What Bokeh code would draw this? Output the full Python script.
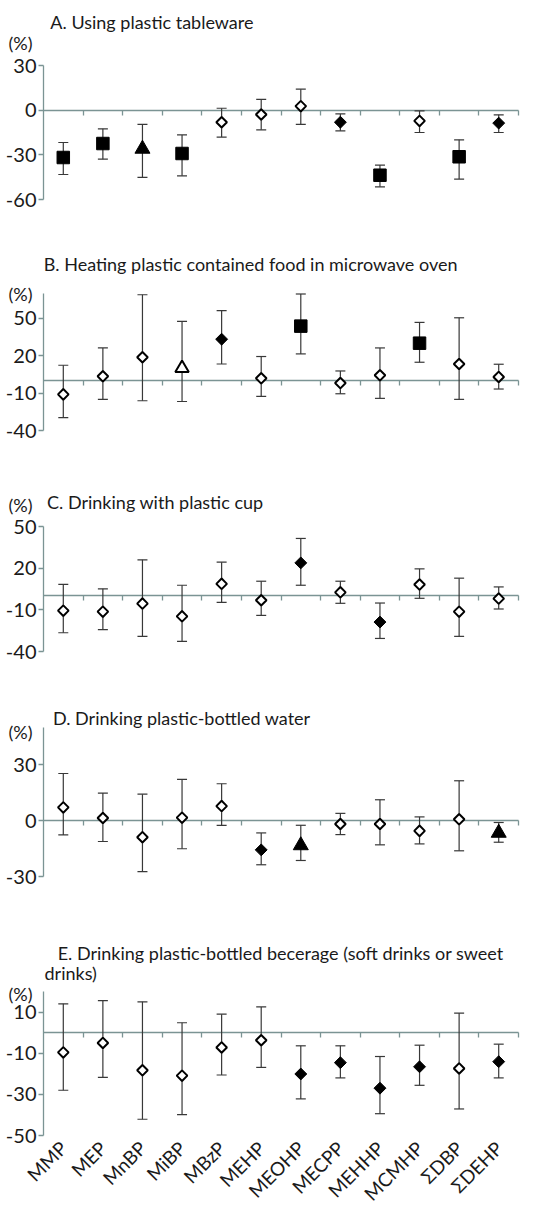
import numpy as np
from bokeh.plotting import figure
from bokeh.layouts import column
from bokeh.core.properties import value
from bokeh.models import (ColumnDataSource, Range1d, LinearAxis, FixedTicker,
                          Whisker, TeeHead)
from bokeh.embed import file_html
from bokeh.resources import INLINE

# ---------------- data ----------------
metabolites = ["MMP", "MEP", "MnBP", "MiBP", "MBzP", "MEHP", "MEOHP", "MECPP",
               "MEHHP", "MCMHP", "ΣDBP", "ΣDEHP"]

# marker codes: od = open diamond, fd = filled diamond, fs = filled square,
# ft = filled triangle, ot = open triangle
a_title = "A. Using plastic tableware"
a_est = [-31.8, -22.4, -26.0, -29.1, -8.1, -2.9, 2.7, -8.1, -43.7, -7.2, -31.3, -8.7]
a_lo = [-43.2, -32.9, -45.2, -44.1, -18.1, -13.2, -9.6, -13.9, -51.5, -15.0, -46.3, -15.0]
a_hi = [-21.7, -12.5, -9.6, -16.6, 1.3, 7.2, 14.1, -2.5, -36.9, -0.5, -19.9, -3.1]
a_mark = ["fs", "fs", "ft", "fs", "od", "od", "od", "fd", "fs", "od", "fs", "fd"]
a_ticks = [30, 0, -30, -60]

b_title = "B. Heating plastic contained food in microwave oven"
b_est = [-11.0, 3.5, 18.8, 10.0, 33.3, 1.9, 43.8, -1.9, 4.3, 30.1, 13.4, 3.0]
b_lo = [-29.6, -15.0, -16.1, -16.7, 13.4, -12.6, 21.5, -10.5, -14.2, 14.8, -15.0, -6.7]
b_hi = [12.4, 26.3, 69.0, 47.6, 56.2, 19.4, 69.6, 7.8, 26.3, 46.8, 50.5, 13.2]
b_mark = ["od", "od", "od", "ot", "fd", "od", "fs", "od", "od", "fs", "od", "od"]
b_ticks = [50, 20, -10, -40]

c_title = "C. Drinking with plastic cup"
c_est = [-10.6, -11.3, -5.5, -14.7, 8.7, -3.1, 23.8, 2.6, -18.8, 8.2, -11.3, -1.9]
c_lo = [-26.5, -24.3, -29.1, -32.7, -4.6, -14.0, 7.7, -5.3, -30.6, -1.7, -29.1, -9.4]
c_hi = [8.4, 5.1, 26.0, 7.7, 24.3, 10.6, 41.4, 10.6, -5.1, 19.5, 12.8, 6.5]
c_mark = ["od", "od", "od", "od", "od", "od", "fd", "od", "fd", "od", "od", "od"]
c_ticks = [50, 20, -10, -40]

d_title = "D. Drinking plastic-bottled water"
d_est = [7.1, 1.4, -8.9, 1.6, 7.8, -15.7, -13.3, -1.8, -1.8, -5.5, 0.7, -6.6]
d_lo = [-7.7, -11.2, -27.4, -15.1, -2.5, -23.7, -21.4, -7.5, -13.0, -12.5, -16.2, -11.6]
d_hi = [25.3, 14.8, 14.2, 22.2, 19.8, -6.6, -2.5, 3.9, 11.2, 2.0, 21.4, -1.0]
d_mark = ["od", "od", "od", "od", "od", "fd", "ft", "od", "od", "od", "od", "ft"]
d_ticks = [30, 0, -30]

e_title = ["E. Drinking plastic-bottled becerage (soft drinks or sweet", "drinks)"]
e_est = [-9.6, -5.0, -18.3, -20.9, -7.2, -3.7, -20.1, -14.6, -27.0, -16.6, -17.4, -14.1]
e_lo = [-28.0, -21.7, -42.1, -39.9, -20.6, -16.9, -32.2, -22.0, -39.4, -25.6, -37.1, -22.0]
e_hi = [14.0, 15.6, 15.0, 4.8, 9.0, 12.5, -6.4, -6.4, -11.6, -6.1, 9.5, -5.6]
e_mark = ["od", "od", "od", "od", "od", "od", "fd", "fd", "fd", "fd", "od", "fd"]
e_ticks = [10, -10, -30, -50]

unit_label = "(%)"

# ---------------- style / layout ----------------
FONT = "Lato"
AX = "#7b9494"
ERR = "#383838"
TXT = "#1a1a1a"
FIG_W = 548
AXIS_X = 43      # screen x of the y axis
RIGHT_X = 518    # screen x of the right end of the zero line
NCAT = len(metabolites)
PXU = (RIGHT_X - AXIS_X) / NCAT
X0 = 0.5 - AXIS_X / PXU
X1 = X0 + FIG_W / PXU

STYLE = {
    "od": dict(marker="square", size=7.5, angle=np.pi / 4, fill="white", lw=2.0),
    "fd": dict(marker="square", size=8.4, angle=np.pi / 4, fill="black", lw=1.0),
    "fs": dict(marker="square", size=12.5, angle=0.0, fill="black", lw=1.0),
    "ft": dict(marker="triangle", size=15.0, angle=0.0, fill="black", lw=1.0),
    "ot": dict(marker="triangle", size=13.5, angle=0.0, fill="white", lw=2.0),
}


def panel(est, lo, hi, marks, yr, yticks, fig_top, fig_bot, frame_top, frame_bot,
          texts, xlabels=False):
    ylo, yhi = yr
    ppy = (frame_bot - frame_top) / (yhi - ylo)

    def ymap(page_y):
        return yhi - (page_y - frame_top) / ppy

    def xmap(page_x):
        return X0 + page_x / PXU

    p = figure(width=FIG_W, height=fig_bot - fig_top,
               x_range=Range1d(X0, X1), y_range=Range1d(ymap(fig_bot), ymap(fig_top)),
               output_backend="svg", toolbar_location=None, title=None,
               x_axis_location=None, y_axis_location=None,
               min_border=0, min_border_left=0, min_border_right=0,
               min_border_top=0, min_border_bottom=0,
               outline_line_color=None, background_fill_color="white",
               border_fill_color="white")
    p.grid.grid_line_color = None

    x = list(range(1, NCAT + 1))
    src = ColumnDataSource(dict(
        x=x, y=est, lo=lo, hi=hi,
        marker=[STYLE[m]["marker"] for m in marks],
        size=[STYLE[m]["size"] for m in marks],
        angle=[STYLE[m]["angle"] for m in marks],
        fill=[STYLE[m]["fill"] for m in marks],
        lw=[STYLE[m]["lw"] for m in marks],
    ))

    # y axis
    yax = LinearAxis(fixed_location=0.5, bounds=(ylo, yhi),
                     ticker=FixedTicker(ticks=yticks),
                     major_label_overrides={t: str(t) for t in yticks},
                     axis_line_color=AX, axis_line_width=1.3,
                     major_tick_line_color=AX, major_tick_line_width=1.3,
                     major_tick_out=5, major_tick_in=0,
                     minor_tick_line_color=None,
                     major_label_text_font=FONT, major_label_text_font_size="20px",
                     major_label_text_color=TXT, major_label_standoff=2)
    p.add_layout(yax, "left")

    # zero line with category-boundary ticks
    zax = LinearAxis(fixed_location=0, bounds=(0.5, NCAT + 0.5),
                     ticker=FixedTicker(ticks=[i + 0.5 for i in x]),
                     axis_line_color=AX, axis_line_width=1.3,
                     major_tick_line_color=AX, major_tick_line_width=1.3,
                     major_tick_out=5, major_tick_in=0,
                     minor_tick_line_color=None,
                     major_label_text_alpha=0, major_label_text_font_size="1px",
                     level="underlay")
    p.add_layout(zax, "below")

    if xlabels:
        xax = LinearAxis(fixed_location=ylo, ticker=FixedTicker(ticks=x),
                         major_label_overrides={i: n for i, n in zip(x, metabolites)},
                         axis_line_color=None, major_tick_line_color=None,
                         minor_tick_line_color=None, major_tick_out=0, major_tick_in=0,
                         major_label_orientation=np.pi / 4,
                         major_label_text_font=FONT, major_label_text_font_size="19px",
                         major_label_text_color=TXT, major_label_standoff=9)
        p.add_layout(xax, "below")

    head = dict(size=10, line_color=ERR, line_width=1.2)
    p.add_layout(Whisker(source=src, base="x", upper="hi", lower="lo",
                         dimension="height", line_color=ERR, line_width=1.2,
                         upper_head=TeeHead(**head), lower_head=TeeHead(**head)))

    p.scatter("x", "y", source=src, marker="marker", size="size", angle="angle",
              fill_color="fill", line_color="black", line_width="lw")

    # one text renderer per text item: (text, screen x, baseline y, align)
    for (t, px, pb, al) in texts:
        tsrc = ColumnDataSource(dict(tx=[xmap(px)], ty=[ymap(pb)], txt=[t]))
        p.text(x="tx", y="ty", text="txt", source=tsrc, text_align=al,
               text_font=value(FONT), text_font_size="18px", text_color=TXT,
               text_baseline="alphabetic")
    return p


pa = panel(a_est, a_lo, a_hi, a_mark, (-60, 30), a_ticks, 0, 230, 65, 199,
           [(a_title, 253, 21, "right"), (unit_label, 8, 42, "left")])
pb = panel(b_est, b_lo, b_hi, b_mark, (-40, 70), b_ticks, 230, 470, 293, 430,
           [(b_title, 457, 263, "right"), (unit_label, 8, 293, "left")])
pc = panel(c_est, c_lo, c_hi, c_mark, (-40, 50), c_ticks, 470, 690, 526, 651,
           [(c_title, 263, 501, "right"), (unit_label, 8, 504, "left")])
pd_ = panel(d_est, d_lo, d_hi, d_mark, (-30, 50), d_ticks, 690, 925, 727, 876,
            [(d_title, 310, 717, "right"), (unit_label, 8, 731, "left")])
pe = panel(e_est, e_lo, e_hi, e_mark, (-50, 20), e_ticks, 925, 1209, 991, 1135,
           [(e_title[0], 503, 952, "right"), (e_title[1], 44, 972, "left"),
            (unit_label, 8, 993, "left")],
           xlabels=True)

layout = column(pa, pb, pc, pd_, pe, spacing=0)
open("out.html", "w").write(file_html(layout, INLINE))
